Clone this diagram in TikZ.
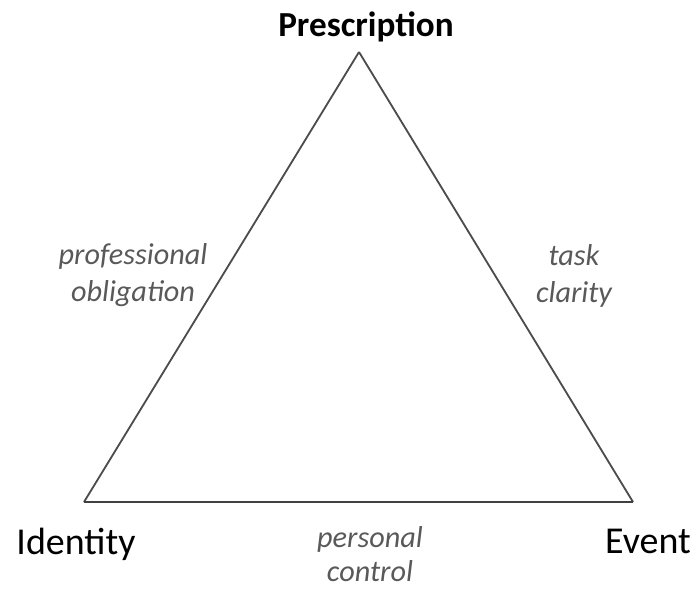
\documentclass[tikz,border=0pt]{standalone}
\usepackage{fontspec}
\setmainfont{Carlito}
\begin{document}
\begin{tikzpicture}[x=0.025cm, y=-0.025cm]
\useasboundingbox (0,0) rectangle (696,589);
\tikzset{every node/.style={inner sep=0pt}}
\tikzset{corner/.style={anchor=base, font=\fontsize{27}{30}\selectfont}}
\tikzset{sidelabel/.style={font=\fontsize{21.5}{26}\selectfont\itshape, text=black!65, align=center}}
\coordinate (p) at (359, 52);
\coordinate (i) at (84, 502);
\coordinate (e) at (633, 502);
\node[corner, font=\fontsize{25}{28}\selectfont\bfseries] (presc) at (366, 37) {Prescription};
\node[corner] (ident) at (76, 554) {Identity};
\node[corner] (event) at (648, 553) {Event};
\node[sidelabel] (prof) at (133, 275) {professional\\obligation};
\node[sidelabel] (task) at (574, 276) {task\\clarity};
\node[sidelabel, font=\fontsize{21.5}{24}\selectfont\itshape] (pers) at (370, 554) {personal\\control};

\tikzset{mystyle/.style={-,line width=1.3pt,black!70}};
\path (p) edge [mystyle] (i);
\path (p) edge [mystyle] (e);
\path (i) edge [mystyle, line width=2pt, black!75] (e);
\end{tikzpicture}
\end{document}
